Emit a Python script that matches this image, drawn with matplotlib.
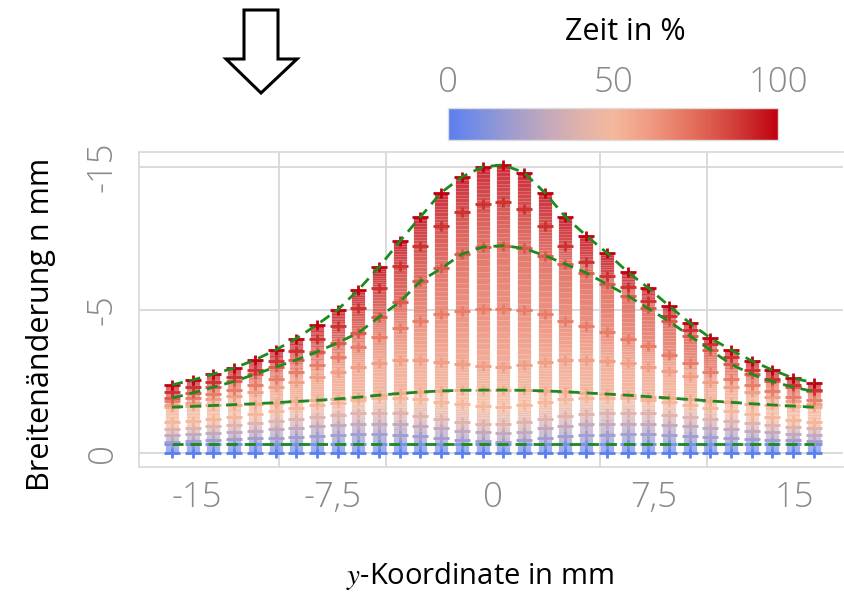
import matplotlib
matplotlib.use("Agg")
import matplotlib.pyplot as plt
from matplotlib.colors import LinearSegmentedColormap, Normalize
from matplotlib.collections import LineCollection
from matplotlib.path import Path
from matplotlib.patches import Polygon
from matplotlib.cm import ScalarMappable

plt.rcParams['font.family'] = ['Open Sans', 'DejaVu Sans']
plt.rcParams['mathtext.fontset'] = 'stix'

# ---------------- data ----------------
y_koordinate = [-15.0, -14.03, -13.06, -12.10, -11.13, -10.16, -9.19, -8.23,
                -7.26, -6.29, -5.32, -4.35, -3.39, -2.42, -1.45, -0.48,
                0.48, 1.45, 2.42, 3.39, 4.35, 5.32, 6.29, 7.26,
                8.23, 9.19, 10.16, 11.13, 12.10, 13.06, 14.03, 15.0]

zeit_prozent = [0, 10, 20, 30, 40, 50, 55, 60, 70, 80, 90, 100]

breite_00 = [0.00, 0.00, 0.00, 0.00, 0.00, 0.00, 0.00, 0.00, 0.00, 0.00, 0.00, 0.00, 0.00, 0.00, 0.00, 0.00,
             0.00, 0.00, 0.00, 0.00, 0.00, 0.00, 0.00, 0.00, 0.00, 0.00, 0.00, 0.00, 0.00, 0.00, 0.00, 0.00]
breite_10 = [0.31, 0.31, 0.31, 0.31, 0.31, 0.31, 0.31, 0.31, 0.31, 0.31, 0.31, 0.31, 0.31, 0.31, 0.31, 0.31,
             0.31, 0.31, 0.31, 0.31, 0.31, 0.31, 0.31, 0.31, 0.31, 0.31, 0.31, 0.31, 0.31, 0.31, 0.31, 0.31]
breite_20 = [0.40, 0.43, 0.45, 0.48, 0.51, 0.54, 0.57, 0.60, 0.63, 0.65, 0.65, 0.63, 0.58, 0.51, 0.46, 0.41,
             0.40, 0.44, 0.51, 0.58, 0.62, 0.64, 0.66, 0.65, 0.64, 0.61, 0.57, 0.54, 0.50, 0.47, 0.44, 0.42]
breite_30 = [0.62, 0.65, 0.69, 0.73, 0.78, 0.83, 0.88, 0.93, 0.98, 1.02, 1.03, 1.01, 0.95, 0.86, 0.78, 0.72,
             0.70, 0.75, 0.86, 0.95, 1.00, 1.02, 1.03, 1.02, 0.99, 0.94, 0.88, 0.83, 0.77, 0.72, 0.67, 0.64]
breite_40 = [0.83, 0.88, 0.93, 0.98, 1.05, 1.12, 1.19, 1.26, 1.33, 1.38, 1.41, 1.38, 1.31, 1.20, 1.10, 1.03,
             1.01, 1.07, 1.20, 1.31, 1.37, 1.40, 1.41, 1.38, 1.34, 1.27, 1.20, 1.12, 1.04, 0.97, 0.90, 0.86]
breite_50 = [1.07, 1.13, 1.20, 1.27, 1.36, 1.46, 1.56, 1.66, 1.76, 1.85, 1.92, 1.93, 1.89, 1.79, 1.70, 1.63,
             1.61, 1.67, 1.79, 1.89, 1.93, 1.93, 1.91, 1.86, 1.78, 1.68, 1.56, 1.46, 1.35, 1.25, 1.16, 1.10]
breite_55 = [1.60, 1.63, 1.66, 1.69, 1.72, 1.76, 1.80, 1.84, 1.89, 1.95, 2.02, 2.08, 2.13, 2.17, 2.19, 2.20,
             2.20, 2.19, 2.17, 2.14, 2.10, 2.06, 2.02, 1.97, 1.92, 1.87, 1.82, 1.77, 1.72, 1.68, 1.64, 1.60]
breite_60 = [1.67, 1.76, 1.88, 1.99, 2.13, 2.30, 2.47, 2.65, 2.82, 3.01, 3.16, 3.25, 3.26, 3.19, 3.11, 3.04,
             3.02, 3.08, 3.19, 3.26, 3.26, 3.22, 3.13, 3.02, 2.86, 2.68, 2.47, 2.30, 2.12, 1.95, 1.80, 1.72]
breite_70 = [1.81, 1.92, 2.06, 2.20, 2.38, 2.59, 2.82, 3.09, 3.36, 3.69, 4.04, 4.37, 4.63, 4.85, 4.96, 5.03,
             5.04, 4.99, 4.85, 4.63, 4.44, 4.23, 3.97, 3.73, 3.43, 3.13, 2.83, 2.59, 2.36, 2.15, 1.97, 1.86]
breite_80 = [1.92, 2.10, 2.30, 2.50, 2.75, 3.00, 3.25, 3.53, 3.85, 4.20, 4.75, 5.28, 6.00, 6.45, 6.95, 7.20,
             7.25, 7.15, 6.90, 6.60, 6.30, 5.90, 5.50, 5.05, 4.60, 4.10, 3.60, 3.10, 2.75, 2.50, 2.30, 2.15]
breite_90 = [2.14, 2.29, 2.48, 2.67, 2.91, 3.22, 3.57, 4.00, 4.45, 5.06, 5.75, 6.52, 7.24, 7.95, 8.41, 8.70,
             8.76, 8.54, 7.95, 7.24, 6.69, 6.17, 5.80, 5.30, 4.78, 4.30, 3.80, 3.35, 2.89, 2.60, 2.36, 2.21]
breite_100 = [2.38, 2.55, 2.76, 2.97, 3.25, 3.60, 4.00, 4.48, 5.00, 5.70, 6.50, 7.40, 8.25, 9.10, 9.65, 10.00,
              10.07, 9.80, 9.10, 8.25, 7.60, 7.00, 6.33, 5.77, 5.14, 4.55, 4.02, 3.60, 3.22, 2.90, 2.62, 2.45]

breite = [breite_00, breite_10, breite_20, breite_30, breite_40, breite_50,
          breite_55, breite_60, breite_70, breite_80, breite_90, breite_100]

gruen_zeiten = [10, 55, 80, 100]          # profiles drawn as dashed green lines

x_ticks = [-15, -7.5, 0, 7.5, 15]
x_ticklabels = ['-15', '-7,5', '0', '7,5', '15']
x_grid = [-15, -10, -5, 0, 5, 10, 15]
y_ticks = [0, 5, 10]
y_ticklabels = ['0', '-5', '-15']
cbar_ticks = [0, 50, 100]

farben = ['#5b7ff0', '#7d90e0', '#a29dcc', '#c4a8bc', '#e0b2ac', '#f4b89c',
          '#f09e85', '#e87d68', '#dc5a4c', '#cd3230', '#c00010']

# ---------------- figure ----------------
W, H = 844, 594
fig = plt.figure(figsize=(W / 100, H / 100), dpi=100)

def fx(px):
    return px / W

def fy(py):
    return 1 - py / H

ax = fig.add_axes([fx(139), fy(467), fx(843) - fx(139), fy(152) - fy(467)])
ax.set_xlim(-16.54, 16.36)
ax.set_ylim(-0.49, 10.52)

cmap = LinearSegmentedColormap.from_list('zeit', farben)
norm = Normalize(0, 100)

# gradient columns connecting successive time steps
segs, cols = [], []
n_sub = 10
for j, x in enumerate(y_koordinate):
    for k in range(len(zeit_prozent) - 1):
        ya, yb = breite[k][j], breite[k + 1][j]
        ta, tb = zeit_prozent[k], zeit_prozent[k + 1]
        for s in range(n_sub):
            a, b = s / n_sub, (s + 1) / n_sub
            segs.append([(x, ya + (yb - ya) * a), (x, ya + (yb - ya) * b)])
            cols.append(cmap(norm(ta + (tb - ta) * (a + b) / 2)))
lc = LineCollection(segs, colors=cols, linewidths=9.5, capstyle='butt',
                    alpha=0.82, zorder=2)
ax.add_collection(lc)

plus = Path([(-1, 0), (1, 0), (0, -0.6), (0, 0.6)],
            [Path.MOVETO, Path.LINETO, Path.MOVETO, Path.LINETO])
for t, row in zip(zeit_prozent, breite):
    ax.plot(y_koordinate, row, linestyle='none', marker=plus, markersize=12,
            markeredgewidth=2.0, color=cmap(norm(t)), zorder=3)

for t in gruen_zeiten:
    row = breite[zeit_prozent.index(t)]
    ax.plot(y_koordinate, row, color='#1e8a1e', lw=2.0,
            linestyle=(0, (4, 2.5)), zorder=4)

# grid / spines / ticks
ax.set_xticks(x_ticks)
ax.set_xticklabels(x_ticklabels)
ax.set_xticks(x_grid, minor=True)
ax.set_yticks(y_ticks)
ax.set_yticklabels(y_ticklabels, rotation=90, va='center')
ax.grid(False)
ax.grid(True, which='minor', axis='x', color='#d8d8d8', lw=1.3, zorder=0)
ax.grid(True, which='major', axis='y', color='#d8d8d8', lw=1.3, zorder=0)
ax.set_axisbelow(True)
ax.tick_params(axis='both', which='both', length=0, labelcolor='#8a8a8a', labelsize=25)
ax.tick_params(axis='x', pad=10)
ax.tick_params(axis='y', pad=14)
for lbl in ax.get_xticklabels() + ax.get_yticklabels():
    lbl.set_fontweight('light')
xl = ax.get_xticklabels()
xl[0].set_ha('left')
xl[-1].set_ha('right')
for side in ['left', 'top', 'bottom']:
    ax.spines[side].set_color('#d8d8d8')
    ax.spines[side].set_linewidth(1.2)
ax.spines['right'].set_visible(False)

# axis labels
fig.text(fx(480), fy(584), r'$y$-Koordinate in mm', ha='center', va='baseline', fontsize=21)
fig.text(fx(41), fy(324), 'Breitenänderung n mm', ha='center', va='center',
         rotation=90, fontsize=22)

# colour bar
cax = fig.add_axes([fx(448), fy(140), fx(778) - fx(448), fy(108) - fy(140)])
cb = fig.colorbar(ScalarMappable(norm=norm, cmap=cmap), cax=cax, orientation='horizontal')
cb.set_ticks(cbar_ticks)
cax.xaxis.set_ticks_position('top')
cax.tick_params(length=0, labelcolor='#8a8a8a', labelsize=25, pad=6)
for lbl in cax.get_xticklabels():
    lbl.set_fontweight('light')
cb.outline.set_edgecolor('#dddddd')
cb.outline.set_linewidth(1.0)
fig.text(fx(625), fy(32), 'Zeit in %', ha='center', va='center', fontsize=22)

# hollow arrow at top left
arrow_px = [(244, 10), (278, 10), (278, 59), (297, 59), (261, 93),
            (226, 59), (244, 59)]
arrow = Polygon([(fx(p[0]), fy(p[1])) for p in arrow_px], closed=True,
                facecolor='white', edgecolor='black', lw=2.2,
                transform=fig.transFigure, joinstyle='miter')
fig.patches.append(arrow)

fig.savefig('out.png', dpi=100)
